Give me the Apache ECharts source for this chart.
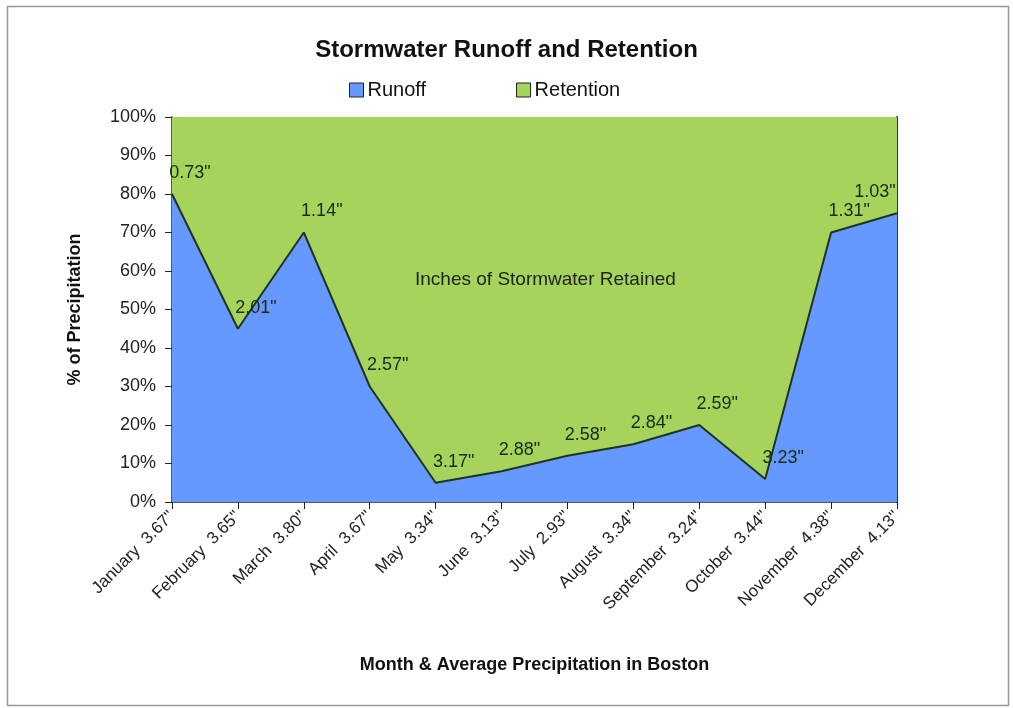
<!DOCTYPE html>
<html><head><meta charset="utf-8">
<script src="https://cdn.jsdelivr.net/npm/echarts@6/dist/echarts.min.js"></script>
<style>html,body{margin:0;padding:0;background:#fff;}#c{width:1013px;height:708px;}</style>
</head><body><div id="c"></div>
<script>
var months = ['January','February','March','April','May','June','July','August','September','October','November','December'];
var avgPrecip = ['3.67','3.65','3.80','3.67','3.34','3.13','2.93','3.34','3.24','3.44','4.38','4.13'];
var runoffPct = [80, 45, 70, 30, 5, 8, 12, 15, 20, 6, 70, 75];
var retainedInches = ['0.73','2.01','1.14','2.57','3.17','2.88','2.58','2.84','2.59','3.23','1.31','1.03'];
var yTicks = [0,10,20,30,40,50,60,70,80,90,100];

var categories = months.map(function(m,i){return m + '  ' + avgPrecip[i] + '"';});
var retentionPct = runoffPct.map(function(v){return 100 - v;});
var FONT = '"Liberation Sans Narrow","Arial Narrow","Liberation Sans",Arial,sans-serif';
var last = runoffPct.length - 1;
var runoffData = runoffPct.map(function(v,i){
  return i === last ? {value:v,label:{offset:[-22,-8]}} : v;
});

var chart = echarts.init(document.getElementById('c'));
chart.setOption({
  animation:false,
  textStyle:{fontFamily:FONT},
  title:{text:'Stormwater Runoff and Retention',left:'center',top:33,
    textStyle:{fontFamily:FONT,fontSize:24,fontWeight:'bold',color:'#111'}},
  legend:{top:75,left:344,itemGap:90,itemWidth:14,itemHeight:14,icon:'rect',
    textStyle:{fontFamily:FONT,fontSize:20,color:'#111',padding:[0,0,0,-1]},
    data:[{name:'Runoff',itemStyle:{borderColor:'#222',borderWidth:1}},
          {name:'Retention',itemStyle:{borderColor:'#222',borderWidth:1}}]},
  grid:{left:172,right:116,top:117,bottom:206},
  xAxis:{type:'category',data:categories,boundaryGap:false,
    name:'Month & Average Precipitation in Boston',nameLocation:'middle',nameGap:154,
    nameTextStyle:{fontFamily:FONT,fontSize:18,fontWeight:'bold',color:'#111'},
    axisLine:{lineStyle:{color:'#222',width:1.5}},
    axisTick:{show:true,length:7,alignWithLabel:true,lineStyle:{color:'#222'}},
    axisLabel:{rotate:45,fontFamily:FONT,fontSize:17,color:'#222',margin:12,interval:0}},
  yAxis:[{type:'value',min:0,max:100,interval:10,
    name:'% of Precipitation',nameLocation:'middle',nameGap:88,nameRotate:90,
    nameTextStyle:{fontFamily:FONT,fontSize:18,fontWeight:'bold',color:'#111'},
    axisLine:{show:true,lineStyle:{color:'#222',width:1.5}},
    axisTick:{show:true,length:7,lineStyle:{color:'#222'}},
    splitLine:{show:false},
    axisLabel:{fontFamily:FONT,fontSize:18,color:'#222',margin:16,
      formatter:function(v){return yTicks.indexOf(v)>=0 ? v+'%' : '';}}},
   {type:'value',min:0,max:100,position:'right',
    axisLine:{show:true,lineStyle:{color:'#333',width:2}},
    axisTick:{show:false},axisLabel:{show:false},splitLine:{show:false}}],
  graphic:[
    {type:'rect',left:5,top:4,shape:{width:1001,height:699},
     style:{fill:'none',stroke:'#999',lineWidth:1.5},z:-1},
    {type:'text',left:415,top:270,style:{text:'Inches of Stormwater Retained',
      font:'19px '+FONT,fill:'#222'},z:100}
  ],
  series:[
    {name:'Runoff',type:'line',stack:'total',data:runoffData,
     symbol:'circle',symbolSize:0,showSymbol:true,
     itemStyle:{color:'#6699ff'},
     lineStyle:{color:'#1f3320',width:2},
     areaStyle:{color:'#6699ff',opacity:1},
     label:{show:true,position:'top',distance:4,offset:[18,-8],
       fontFamily:FONT,fontSize:18,color:'#1a2a10',
       formatter:function(p){return retainedInches[p.dataIndex]+'"';}},
     z:3},
    {name:'Retention',type:'line',stack:'total',data:retentionPct,symbol:'none',
     itemStyle:{color:'#a6d35c'},
     lineStyle:{width:0},
     areaStyle:{color:'#a6d35c',opacity:1},z:2}
  ]
});
</script></body></html>
